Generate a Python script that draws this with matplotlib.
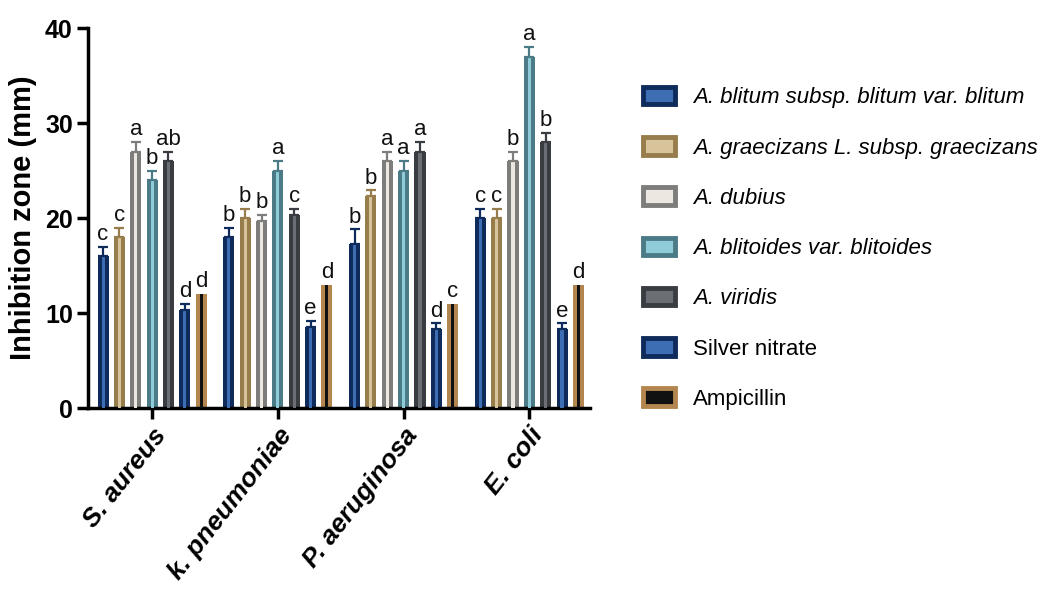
import numpy as np
import matplotlib
matplotlib.use('Agg')
import matplotlib.pyplot as plt
from matplotlib.patches import Patch

plt.rcParams['font.family'] = ['Liberation Sans', 'DejaVu Sans']

bacteria = ['S. aureus', 'k. pneumoniae', 'P. aeruginosa', 'E. coli']
treatments = ['A. blitum subsp. blitum var. blitum',
              'A. graecizans L. subsp. graecizans',
              'A. dubius',
              'A. blitoides var. blitoides',
              'A. viridis',
              'Silver nitrate',
              'Ampicillin']
italic_label = [True, True, True, True, True, False, False]

# mean inhibition zone (mm), one row per treatment, one column per bacterium
means = [
    [16.0, 18.0, 17.3, 20.0],
    [18.0, 20.0, 22.3, 20.0],
    [27.0, 19.7, 26.0, 26.0],
    [24.0, 25.0, 25.0, 37.0],
    [26.0, 20.3, 27.0, 28.0],
    [10.3, 8.5, 8.3, 8.3],
    [12.0, 13.0, 11.0, 13.0],
]
sds = [
    [1.0, 1.0, 1.5, 1.0],
    [1.0, 1.0, 0.6, 1.0],
    [1.0, 0.6, 1.0, 1.0],
    [1.0, 1.0, 1.0, 1.0],
    [1.0, 0.7, 1.0, 1.0],
    [0.7, 0.7, 0.6, 0.6],
    [0.0, 0.0, 0.0, 0.0],
]
letters = [
    ['c', 'b', 'b', 'c'],
    ['c', 'b', 'b', 'c'],
    ['a', 'b', 'a', 'b'],
    ['b', 'a', 'a', 'a'],
    ['ab', 'c', 'a', 'b'],
    ['d', 'e', 'd', 'e'],
    ['d', 'd', 'c', 'd'],
]

edge_cols = ['#0f2b5b', '#977c4c', '#7d7d7b', '#4b7b86', '#393c41', '#0f2b5b', '#b3864f']
fill_cols = ['#3d6db3', '#d8c49b', '#ece8e1', '#8fcbd8', '#6b6e74', '#3d6db3', '#111111']

fig = plt.figure(figsize=(10.43, 5.96), dpi=100)
ax = fig.add_axes([0.0844, 0.3154, 0.4816, 0.6376])

x = np.arange(len(bacteria))
step = 0.13
width = 0.088
for i in range(len(treatments)):
    pos = x + (i - 3) * step
    m = np.array(means[i])
    s = np.array(sds[i])
    # thick outline colour as the bar body, fill shows as a thin centre strip
    ax.bar(pos, m, width=width, color=edge_cols[i], zorder=2)
    ax.bar(pos, m, width=width * 0.28, color=fill_cols[i], zorder=3)
    if s.max() > 0:
        ax.errorbar(pos, m, yerr=[np.zeros_like(s), s], fmt='none',
                    ecolor=edge_cols[i], elinewidth=1.6, capsize=3.5,
                    capthick=1.6, zorder=4)
    for p, v, e, lab in zip(pos, m, s, letters[i]):
        ax.text(p, v + e + 0.2, lab, ha='center', va='bottom',
                fontsize=16, color='#111111', zorder=5)

ax.set_xlim(-0.51, 3.485)
ax.set_ylim(0, 40)
ax.set_yticks([0, 10, 20, 30, 40])
ax.set_xticks(x)
ax.set_xticklabels(bacteria, rotation=52, ha='right', rotation_mode='anchor',
                   fontsize=19, fontweight='bold', fontstyle='italic')
for t in ax.get_yticklabels():
    t.set_fontsize(18)
    t.set_fontweight('bold')
ax.set_ylabel('Inhibition zone (mm)', fontsize=21, fontweight='bold', labelpad=6)

for side in ['top', 'right']:
    ax.spines[side].set_visible(False)
for side in ['left', 'bottom']:
    ax.spines[side].set_linewidth(2.5)
ax.tick_params(axis='both', width=2.5, length=8, pad=3)

handles = [Patch(facecolor=fill_cols[i], edgecolor=edge_cols[i], linewidth=3.5)
           for i in range(len(treatments))]
leg = fig.legend(handles, treatments, loc='upper left',
                 bbox_to_anchor=(0.597, 0.8876), frameon=False,
                 prop={'size': 16},
                 handlelength=1.45, handleheight=0.82, handletextpad=0.8,
                 labelspacing=1.3)
for t, it in zip(leg.get_texts(), italic_label):
    if it:
        t.set_fontstyle('italic')

fig.savefig('out.png', dpi=100)
